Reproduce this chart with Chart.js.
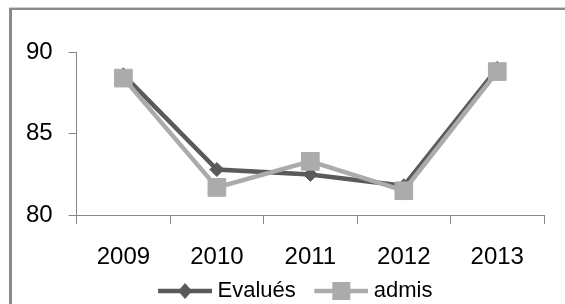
<!DOCTYPE html>
<html>
<head>
<meta charset="utf-8">
<script src="https://cdn.jsdelivr.net/npm/chart.js@4"></script>
<style>
  html, body { margin: 0; padding: 0; background: #fff; }
  body { width: 565px; height: 304px; position: relative; overflow: hidden; }
  #wrap { position: absolute; left: 0; top: 0; width: 565px; height: 304px; }
  #frame { position: absolute; left: 9px; top: 8px; width: 600px; height: 320px;
           border-left: 3px solid #8a8a8a; border-top: 2px solid #8a8a8a;
           box-shadow: 0 -1px 0 #d0d0d0; pointer-events: none; }
  .cut { position: absolute; top: -24px; font: italic bold 20px "Liberation Serif", serif; color: #000; }
</style>
</head>
<body>
<span class="cut" style="left:15px">y</span>
<span class="cut" style="left:91px">p</span>
<div id="frame"></div>
<div id="wrap"><canvas id="chartCanvas" width="565" height="304"></canvas></div>
<script>
var years = ['2009', '2010', '2011', '2012', '2013'];
var evalues = [88.6, 82.8, 82.5, 81.8, 89.0];
var admis = [88.4, 81.7, 83.3, 81.5, 88.8];
var yTicks = [80, 85, 90];

var darkGrey = '#5a5a5a';
var lightGrey = '#ababab';
var axisGrey = '#868686';
var tickFont = { family: '"Liberation Sans", Arial, sans-serif', size: 24 };
var legendFont = { family: '"Liberation Sans", Arial, sans-serif', size: 22 };

// small legend swatch: line with marker, transparent strip on the left for spacing
function legendSwatch(color, marker) {
    var c = document.createElement('canvas');
    c.width = 78; c.height = 20;
    var g = c.getContext('2d');
    var x0 = 24, x1 = 78, cy = 10, mx = (x0 + x1) / 2;
    g.strokeStyle = color;
    g.lineWidth = 4.5;
    g.beginPath(); g.moveTo(x0, cy); g.lineTo(x1, cy); g.stroke();
    g.fillStyle = color;
    g.beginPath();
    if (marker === 'diamond') {
        g.moveTo(mx, cy - 8); g.lineTo(mx + 7, cy); g.lineTo(mx, cy + 8); g.lineTo(mx - 7, cy);
    } else {
        g.rect(mx - 9, cy - 9, 18, 18);
    }
    g.closePath(); g.fill();
    return c;
}

var swatches = [legendSwatch(darkGrey, 'diamond'), legendSwatch(lightGrey, 'square')];

// Excel centres the legend on the whole frame, nudge it right a bit
var legendShift = {
    id: 'legendShift',
    afterLayout: function (chart) {
        if (chart.legend) {
            chart.legend.left += 9;
            chart.legend.right += 9;
        }
    }
};

var ctx = document.getElementById('chartCanvas').getContext('2d');
var chart = new Chart(ctx, {
    type: 'line',
    data: {
        labels: years,
        datasets: [
            {
                label: 'Evalués',
                data: evalues,
                borderColor: darkGrey,
                backgroundColor: darkGrey,
                borderWidth: 4.5,
                pointStyle: 'rectRot',
                pointRadius: 7,
                pointBorderWidth: 1,
                tension: 0,
                order: 1
            },
            {
                label: 'admis',
                data: admis,
                borderColor: lightGrey,
                backgroundColor: lightGrey,
                borderWidth: 4.5,
                pointStyle: 'rect',
                pointRadius: 12.5,
                pointBorderWidth: 1,
                tension: 0,
                order: 0
            }
        ]
    },
    plugins: [legendShift],
    options: {
        responsive: false,
        animation: false,
        layout: { padding: { left: 10, right: 21, top: 52, bottom: -8 } },
        plugins: {
            tooltip: { enabled: false },
            legend: {
                position: 'bottom',
                labels: {
                    usePointStyle: true,
                    pointStyleWidth: 67,
                    padding: 0,
                    color: '#000',
                    font: legendFont,
                    sort: function (a, b) { return a.datasetIndex - b.datasetIndex; },
                    generateLabels: function (chart) {
                        return chart.data.datasets.map(function (ds, i) {
                            return {
                                text: ds.label,
                                pointStyle: swatches[i],
                                fillStyle: ds.backgroundColor,
                                strokeStyle: ds.borderColor,
                                lineWidth: 0,
                                datasetIndex: i,
                                fontColor: '#000'
                            };
                        });
                    }
                }
            }
        },
        scales: {
            x: {
                offset: true,
                grid: { display: true, offset: true, drawOnChartArea: false, drawTicks: true,
                        tickLength: 9, color: axisGrey },
                border: { display: true, color: axisGrey, width: 1 },
                ticks: { color: '#000', font: tickFont, padding: 19, maxRotation: 0 },
                afterFit: function (axis) { axis.height -= 11; }
            },
            y: {
                min: 80,
                max: 90,
                afterBuildTicks: function (axis) {
                    axis.ticks = yTicks.map(function (v) { return { value: v }; });
                },
                grid: { display: true, drawOnChartArea: false, drawTicks: true,
                        tickLength: 8, color: axisGrey },
                border: { display: true, color: axisGrey, width: 1 },
                ticks: { color: '#000', font: tickFont, padding: 16 }
            }
        }
    }
});
</script>
</body>
</html>
